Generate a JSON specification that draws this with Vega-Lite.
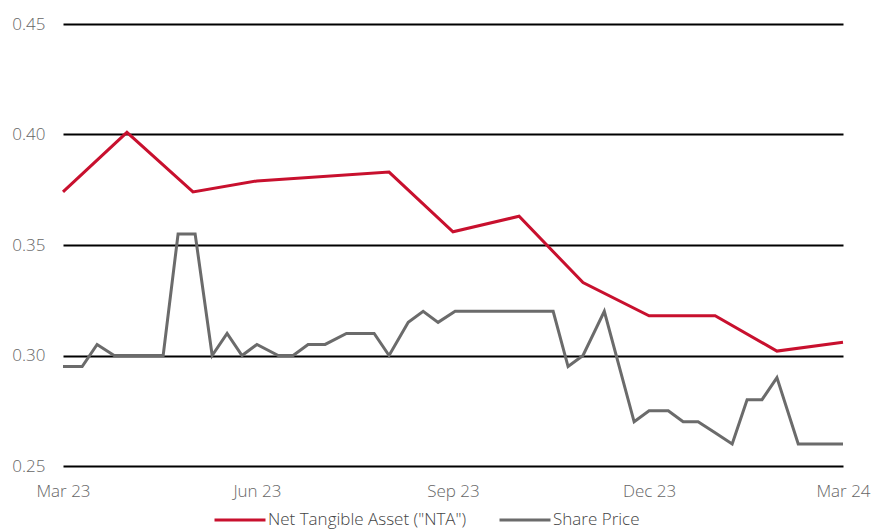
{
  "$schema": "https://vega.github.io/schema/vega-lite/v6.json",
  "width": 780,
  "height": 442,
  "autosize": {"type": "none"},
  "padding": {"left": 63, "top": 24, "right": 30, "bottom": 65},
  "background": "white",
  "config": {
    "view": {"stroke": null},
    "font": "Open Sans"
  },
  "data": {
    "values": [
      {"date": "2023-03-31", "series": "Net Tangible Asset (\"NTA\")", "value": 0.374},
      {"date": "2023-04-30", "series": "Net Tangible Asset (\"NTA\")", "value": 0.401},
      {"date": "2023-05-31", "series": "Net Tangible Asset (\"NTA\")", "value": 0.374},
      {"date": "2023-06-30", "series": "Net Tangible Asset (\"NTA\")", "value": 0.379},
      {"date": "2023-08-31", "series": "Net Tangible Asset (\"NTA\")", "value": 0.383},
      {"date": "2023-09-30", "series": "Net Tangible Asset (\"NTA\")", "value": 0.356},
      {"date": "2023-10-31", "series": "Net Tangible Asset (\"NTA\")", "value": 0.363},
      {"date": "2023-11-30", "series": "Net Tangible Asset (\"NTA\")", "value": 0.333},
      {"date": "2023-12-31", "series": "Net Tangible Asset (\"NTA\")", "value": 0.318},
      {"date": "2024-01-31", "series": "Net Tangible Asset (\"NTA\")", "value": 0.318},
      {"date": "2024-02-29", "series": "Net Tangible Asset (\"NTA\")", "value": 0.302},
      {"date": "2024-03-31", "series": "Net Tangible Asset (\"NTA\")", "value": 0.306},
      {"date": "2023-03-31", "series": "Share Price", "value": 0.295},
      {"date": "2023-04-09", "series": "Share Price", "value": 0.295},
      {"date": "2023-04-16", "series": "Share Price", "value": 0.305},
      {"date": "2023-04-24", "series": "Share Price", "value": 0.30},
      {"date": "2023-05-17", "series": "Share Price", "value": 0.30},
      {"date": "2023-05-24", "series": "Share Price", "value": 0.355},
      {"date": "2023-06-01", "series": "Share Price", "value": 0.355},
      {"date": "2023-06-09", "series": "Share Price", "value": 0.30},
      {"date": "2023-06-16", "series": "Share Price", "value": 0.31},
      {"date": "2023-06-23", "series": "Share Price", "value": 0.30},
      {"date": "2023-06-30", "series": "Share Price", "value": 0.305},
      {"date": "2023-07-10", "series": "Share Price", "value": 0.30},
      {"date": "2023-07-17", "series": "Share Price", "value": 0.30},
      {"date": "2023-07-24", "series": "Share Price", "value": 0.305},
      {"date": "2023-08-01", "series": "Share Price", "value": 0.305},
      {"date": "2023-08-11", "series": "Share Price", "value": 0.31},
      {"date": "2023-08-24", "series": "Share Price", "value": 0.31},
      {"date": "2023-08-31", "series": "Share Price", "value": 0.30},
      {"date": "2023-09-09", "series": "Share Price", "value": 0.315},
      {"date": "2023-09-16", "series": "Share Price", "value": 0.32},
      {"date": "2023-09-23", "series": "Share Price", "value": 0.315},
      {"date": "2023-10-01", "series": "Share Price", "value": 0.32},
      {"date": "2023-11-16", "series": "Share Price", "value": 0.32},
      {"date": "2023-11-23", "series": "Share Price", "value": 0.295},
      {"date": "2023-11-30", "series": "Share Price", "value": 0.30},
      {"date": "2023-12-10", "series": "Share Price", "value": 0.32},
      {"date": "2023-12-24", "series": "Share Price", "value": 0.27},
      {"date": "2023-12-31", "series": "Share Price", "value": 0.275},
      {"date": "2024-01-09", "series": "Share Price", "value": 0.275},
      {"date": "2024-01-16", "series": "Share Price", "value": 0.27},
      {"date": "2024-01-23", "series": "Share Price", "value": 0.27},
      {"date": "2024-01-31", "series": "Share Price", "value": 0.265},
      {"date": "2024-02-08", "series": "Share Price", "value": 0.26},
      {"date": "2024-02-15", "series": "Share Price", "value": 0.28},
      {"date": "2024-02-22", "series": "Share Price", "value": 0.28},
      {"date": "2024-02-29", "series": "Share Price", "value": 0.29},
      {"date": "2024-03-10", "series": "Share Price", "value": 0.26},
      {"date": "2024-03-31", "series": "Share Price", "value": 0.26}
    ]
  },
  "mark": {"type": "line", "strokeWidth": 3, "interpolate": "linear"},
  "encoding": {
    "x": {
      "field": "date",
      "type": "temporal",
      "scale": {
        "type": "utc",
        "domain": [
          {"year": 2023, "month": 3, "date": 31, "utc": true},
          {"year": 2024, "month": 3, "date": 31, "utc": true}
        ]
      },
      "axis": {
        "title": null,
        "values": [
          {"year": 2023, "month": 3, "date": 31, "utc": true},
          {"year": 2023, "month": 6, "date": 30, "utc": true},
          {"year": 2023, "month": 9, "date": 30, "utc": true},
          {"year": 2023, "month": 12, "date": 31, "utc": true},
          {"year": 2024, "month": 3, "date": 31, "utc": true}
        ],
        "format": "%b %y",
        "grid": false,
        "domain": false,
        "ticks": false,
        "labelPadding": 17,
        "labelFontSize": 17,
        "labelFontWeight": 300,
        "labelColor": "#666666",
        "labelFont": "Open Sans",
        "labelFlush": false
      }
    },
    "y": {
      "field": "value",
      "type": "quantitative",
      "scale": {"domain": [0.25, 0.45], "nice": false, "zero": false},
      "axis": {
        "title": null,
        "values": [0.25, 0.30, 0.35, 0.40, 0.45],
        "format": ".2f",
        "grid": true,
        "gridColor": "#000000",
        "gridWidth": 2,
        "gridOpacity": 1,
        "domain": false,
        "ticks": false,
        "labelPadding": 18,
        "labelFontSize": 17,
        "labelFontWeight": 300,
        "labelColor": "#666666",
        "labelFont": "Open Sans"
      }
    },
    "color": {
      "field": "series",
      "type": "nominal",
      "scale": {
        "domain": ["Net Tangible Asset (\"NTA\")", "Share Price"],
        "range": ["#C8102E", "#6B6B6B"]
      },
      "legend": {
        "title": null,
        "orient": "none",
        "legendX": 150,
        "legendY": 469,
        "direction": "horizontal",
        "symbolType": "stroke",
        "symbolSize": 2600,
        "symbolStrokeWidth": 3,
        "labelFontSize": 17,
        "labelFontWeight": 300,
        "labelColor": "#444444",
        "labelFont": "Open Sans",
        "labelLimit": 400,
        "labelOffset": 1,
        "columnPadding": 26,
        "padding": 0
      }
    }
  }
}
